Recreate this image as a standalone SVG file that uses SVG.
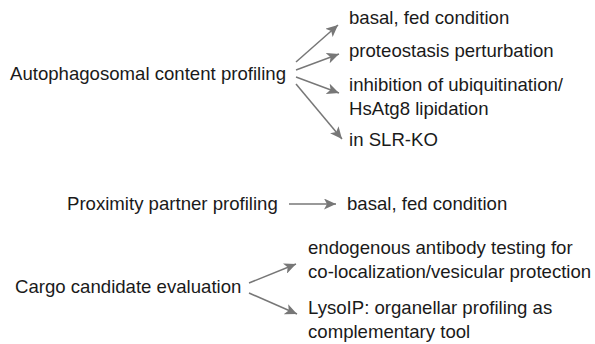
<svg xmlns="http://www.w3.org/2000/svg" width="595" height="344" viewBox="0 0 595 344">
<style>
text{font-family:"Liberation Sans",Arial,sans-serif;font-size:18.6px;fill:#1a1a1a}
.c line{stroke:#777;stroke-width:1.5;marker-end:url(#ah)}
</style>
<defs>
<marker id="ah" markerUnits="userSpaceOnUse" markerWidth="13" markerHeight="11" viewBox="0 0 13 11" refX="12" refY="5.5" orient="auto">
<path d="M0,0 L12,5.5 L0,11 L3,5.5 Z" fill="#777"/>
</marker>
</defs>
<rect width="595" height="344" fill="#fff"/>
<g class="c" id="connectors">
<line x1="296" y1="62" x2="338" y2="25"/>
<line x1="296" y1="70" x2="339" y2="54"/>
<line x1="296" y1="77" x2="339" y2="93"/>
<line x1="296" y1="84" x2="342" y2="139"/>
<line x1="289" y1="204" x2="336" y2="204"/>
<line x1="249" y1="283" x2="296" y2="264"/>
<line x1="249" y1="293" x2="297" y2="314"/>
</g>
<g id="n-auto"><text x="10" y="80">Autophagosomal content profiling</text></g>
<g id="n-basal1"><text x="349" y="24">basal, fed condition</text></g>
<g id="n-proteo"><text x="349" y="57">proteostasis perturbation</text></g>
<g id="n-inhib"><text x="349" y="91">inhibition of ubiquitination/</text><text x="349" y="115">HsAtg8 lipidation</text></g>
<g id="n-slr"><text x="349" y="146">in SLR-KO</text></g>
<g id="n-prox"><text x="67" y="210">Proximity partner profiling</text></g>
<g id="n-basal2"><text x="347" y="210">basal, fed condition</text></g>
<g id="n-cargo"><text x="15" y="293">Cargo candidate evaluation</text></g>
<g id="n-endo"><text x="308" y="254">endogenous antibody testing for</text><text x="308" y="278">co-localization/vesicular protection</text></g>
<g id="n-lyso"><text x="308" y="314">LysoIP: organellar profiling as</text><text x="308" y="338">complementary tool</text></g>
</svg>
